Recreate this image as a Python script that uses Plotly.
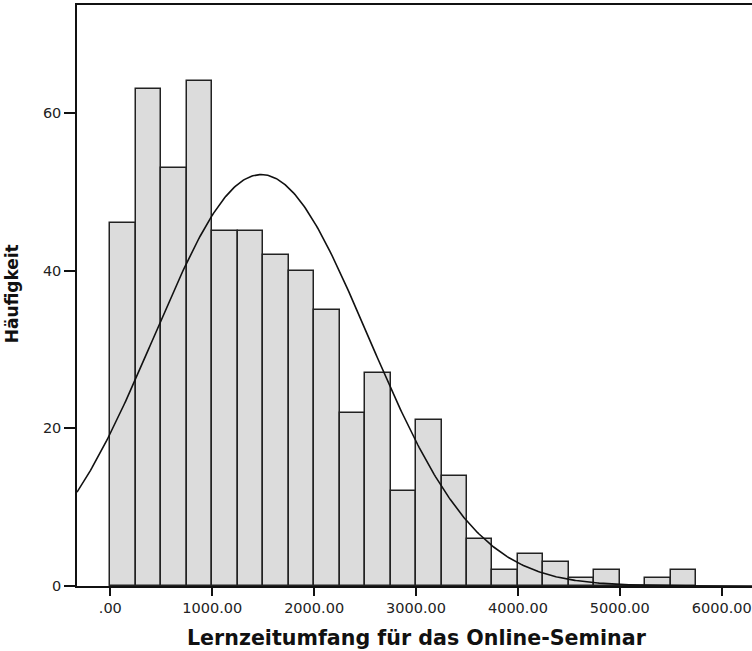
import numpy as np
import plotly.graph_objects as go

# ---- data ----
bin_starts = [0, 250, 500, 750, 1000, 1250, 1500, 1750, 2000, 2250, 2500, 2750,
              3000, 3250, 3500, 3750, 4000, 4250, 4500, 4750, 5000, 5250, 5500]
counts = [46, 63, 53, 64, 45, 45, 42, 40, 35, 22, 27, 12,
          21, 14, 6, 2, 4, 3, 1, 2, 0, 1, 2]
bin_width = 250

# normal curve parameters (SPSS overlay)
curve_mean = 1480.0
curve_sd = 1051.0
n_total = sum(counts)

x_tickvals = [0, 1000, 2000, 3000, 4000, 5000, 6000]
x_ticktext = [".00", "1000.00", "2000.00", "3000.00", "4000.00", "5000.00", "6000.00"]
y_tickvals = [0, 20, 40, 60]
y_ticktext = ["0", "20", "40", "60"]

x_title = "Lernzeitumfang für das Online-Seminar"
y_title = "Häufigkeit"

x_range = [-327, 6297]
y_range = [0, 73.7]

# ---- figure ----
centers = [s + bin_width / 2 for s in bin_starts]
fig = go.Figure()
fig.add_trace(go.Bar(
    x=centers, y=counts, width=bin_width,
    marker=dict(color="#dcdcdc", line=dict(color="#222222", width=1.5)),
    hoverinfo="skip",
))

xs = np.linspace(x_range[0], x_range[1], 500)
ys = n_total * bin_width / (curve_sd * np.sqrt(2 * np.pi)) * np.exp(-0.5 * ((xs - curve_mean) / curve_sd) ** 2)
fig.add_trace(go.Scatter(x=xs, y=ys, mode="lines",
                         line=dict(color="#111111", width=1.6), hoverinfo="skip"))

tick_font = dict(family="DejaVu Sans", size=14.5, color="#222222")
fig.update_layout(
    width=752, height=651,
    margin=dict(l=77, r=0, t=5, b=65),
    paper_bgcolor="white", plot_bgcolor="white",
    showlegend=False, bargap=0,
    xaxis=dict(range=x_range, tickvals=x_tickvals, ticktext=x_ticktext,
               showgrid=False, zeroline=False, showline=True, linecolor="#111111",
               linewidth=1.5, mirror=True, ticks="outside", ticklen=8, tickwidth=1.5,
               tickcolor="#111111", tickfont=tick_font, automargin=False),
    yaxis=dict(range=y_range, tickvals=y_tickvals, ticktext=y_ticktext,
               showgrid=False, zeroline=False, showline=True, linecolor="#111111",
               linewidth=1.5, ticks="outside", ticklen=11, tickwidth=1.5,
               tickcolor="#111111", tickfont=tick_font, automargin=False),
    annotations=[
        dict(text=x_title, xref="paper", yref="paper", x=0.5037, y=-0.0895,
             xanchor="center", yanchor="middle", showarrow=False,
             font=dict(family="DejaVu Sans", size=20.6, color="#111111", weight="bold")),
        dict(text=y_title, xref="paper", yref="paper", x=-0.0963, y=0.504,
             xanchor="center", yanchor="middle", showarrow=False, textangle=-90,
             font=dict(family="DejaVu Sans", size=17, color="#111111", weight="bold")),
    ],
)

fig.write_html("out.html", config={"displayModeBar": False},
               post_script="document.body.style.margin='0px';document.body.style.overflow='hidden';")
